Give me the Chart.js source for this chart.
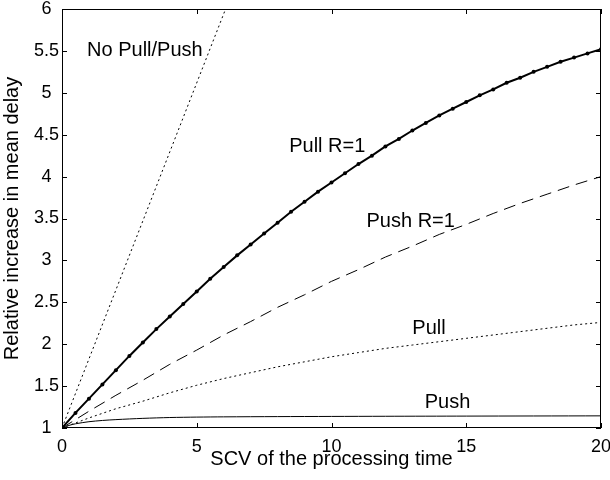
<!DOCTYPE html>
<html><head><meta charset="utf-8">
<script src="https://cdn.jsdelivr.net/npm/chart.js@4.4.0/dist/chart.umd.min.js"></script>
<style>html,body{margin:0;padding:0;background:#fff}#wrap{width:610px;height:480px}</style>
</head><body><div id="wrap"><canvas id="c" width="610" height="480"></canvas></div>
<script>
// ---- data ----
const xTickValues = [0, 5, 10, 15, 20];
const yTickValues = [1, 1.5, 2, 2.5, 3, 3.5, 4, 4.5, 5, 5.5, 6];

const noPullPushX = [0, 6.07];
const noPullPushY = [1.0, 6.0];

const pullR1X = [0,0.5,1,1.5,2,2.5,3,3.5,4,4.5,5,5.5,6,6.5,7,7.5,8,8.5,9,9.5,10,10.5,11,11.5,12,12.5,13,13.5,14,14.5,15,15.5,16,16.5,17,17.5,18,18.5,19,19.5,20];
const pullR1Y = [1.00,1.18,1.35,1.52,1.69,1.86,2.02,2.18,2.33,2.48,2.63,2.78,2.92,3.06,3.19,3.32,3.45,3.58,3.70,3.82,3.93,4.04,4.15,4.25,4.36,4.45,4.55,4.64,4.73,4.81,4.89,4.97,5.04,5.12,5.18,5.25,5.31,5.37,5.42,5.47,5.52];

const pushR1X = [0,1,2,3,4,5,6,7,8,9,10,11,12,13,14,15,16,17,18,19,20];
const pushR1Y = [1.00,1.20,1.39,1.57,1.76,1.93,2.11,2.27,2.44,2.59,2.75,2.89,3.04,3.17,3.31,3.43,3.56,3.68,3.79,3.90,4.00];

const pullX = [0,1,2,3,4,5,6,7,8,9,10,11,12,13,14,15,16,17,18,19,20];
const pullY = [1.00,1.12,1.23,1.32,1.42,1.51,1.59,1.66,1.73,1.79,1.85,1.90,1.95,1.99,2.03,2.07,2.11,2.15,2.19,2.23,2.26];

const pushX = [0,0.25,0.5,1,1.5,2,3,4,5,6,8,10,12,15,20];
const pushY = [1.00,1.03,1.05,1.075,1.09,1.10,1.115,1.125,1.13,1.133,1.136,1.138,1.14,1.142,1.145];

const labelTexts = ["No Pull/Push", "Pull R=1", "Push R=1", "Pull", "Push"];
const labelX = [0.93, 8.43, 11.3, 13.0, 13.46];
const labelY = [5.5, 4.355, 3.465, 2.186, 1.31];

const xTitle = "SCV of the processing time";
const yTitle = "Relative increase in mean delay";

// ---- build ----
const pts = (xs, ys) => xs.map((x, i) => ({x: x, y: ys[i]}));
const FONT = "'Liberation Sans', Arial, Helvetica, sans-serif";

const frame = {
  id: 'frame',
  afterDraw(chart) {
    const {ctx, chartArea: a, scales: {x, y}} = chart;
    ctx.save();
    ctx.strokeStyle = '#000';
    ctx.lineWidth = 1;
    ctx.strokeRect(Math.round(a.left) + 0.5, Math.round(a.top) + 0.5, Math.round(a.right - a.left) - 1, Math.round(a.bottom - a.top) - 1);
    const L = 5;
    ctx.beginPath();
    xTickValues.forEach(v => {
      const px = Math.round(x.getPixelForValue(v)) + 0.5;
      ctx.moveTo(px, a.bottom); ctx.lineTo(px, a.bottom - L);
      ctx.moveTo(px, a.top); ctx.lineTo(px, a.top + L);
    });
    yTickValues.forEach(v => {
      const py = Math.round(y.getPixelForValue(v)) + 0.5;
      ctx.moveTo(a.left, py); ctx.lineTo(a.left + L, py);
      ctx.moveTo(a.right, py); ctx.lineTo(a.right - L, py);
    });
    ctx.stroke();
    ctx.restore();
  }
};

const annot = {
  id: 'annot',
  afterDatasetsDraw(chart) {
    const {ctx, scales: {x, y}} = chart;
    ctx.save();
    ctx.fillStyle = '#000';
    ctx.font = "20px " + FONT;
    ctx.textAlign = 'left';
    ctx.textBaseline = 'middle';
    labelTexts.forEach((t, i) => {
      ctx.fillText(t, x.getPixelForValue(labelX[i]), y.getPixelForValue(labelY[i]));
    });
    ctx.restore();
  }
};

new Chart(document.getElementById('c'), {
  type: 'scatter',
  data: {
    datasets: [
      {data: pts(noPullPushX, noPullPushY), showLine: true, borderColor: '#000', borderWidth: 1, borderDash: [2, 3], pointRadius: 0},
      {data: pts(pullR1X, pullR1Y), showLine: true, borderColor: '#000', borderWidth: 2, pointRadius: 2, pointBackgroundColor: '#000', pointBorderWidth: 0},
      {data: pts(pushR1X, pushR1Y), showLine: true, borderColor: '#000', borderWidth: 1, borderDash: [12, 7], pointRadius: 0},
      {data: pts(pullX, pullY), showLine: true, borderColor: '#000', borderWidth: 1, borderDash: [2, 3], pointRadius: 0},
      {data: pts(pushX, pushY), showLine: true, borderColor: '#000', borderWidth: 1, pointRadius: 0, tension: 0.3}
    ]
  },
  options: {
    responsive: false,
    animation: false,
    events: [],
    layout: {padding: {top: 9, right: 9, left: 0, bottom: 0}},
    plugins: {legend: {display: false}, tooltip: {enabled: false}},
    scales: {
      x: {
        type: 'linear', min: 0, max: 20,
        afterBuildTicks: s => { s.ticks = xTickValues.map(v => ({value: v})); },
        afterFit: s => { s.height = 52; s.paddingLeft = 0; s.paddingRight = 0; },
        grid: {display: false, drawTicks: false},
        border: {display: false},
        ticks: {color: '#000', font: {family: FONT, size: 18}, padding: 8, maxRotation: 0, callback: v => String(v)},
        title: {display: true, text: xTitle, color: '#000', font: {family: FONT, size: 20}, padding: {top: 0, bottom: 9}}
      },
      y: {
        type: 'linear', min: 1, max: 6,
        afterBuildTicks: s => { s.ticks = yTickValues.map(v => ({value: v})); },
        afterFit: s => { s.width = 62; s.paddingTop = 0; s.paddingBottom = 0; },
        grid: {display: false, drawTicks: false},
        border: {display: false},
        ticks: {color: '#000', font: {family: FONT, size: 18}, padding: 3, crossAlign: 'center', callback: v => String(v)},
        title: {display: true, text: yTitle, color: '#000', font: {family: FONT, size: 20}, padding: {top: 0, bottom: 0}}
      }
    }
  },
  plugins: [frame, annot]
});
</script>
</body></html>
